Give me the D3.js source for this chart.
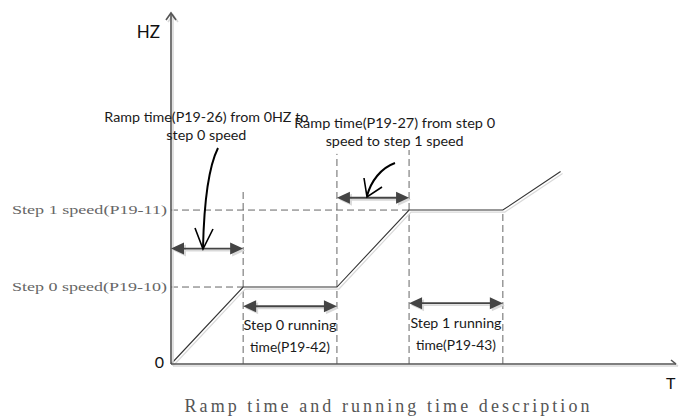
<!DOCTYPE html>
<html>
<head>
<meta charset="utf-8">
<script src="https://cdn.jsdelivr.net/npm/d3@7"></script>
<style>
  body { margin: 0; background: #fff; }
  svg { display: block; }
</style>
</head>
<body>
<div id="chart"></div>
<script>
const width = 679;
const height = 417;
const margin = {top: 13, right: 3, bottom: 53, left: 171};

// speed profile (time units, speed units: step 0 = 1)
const profileT = [0, 1, 2.3, 3.3, 4.6, 5.4];
const profileF = [0, 1, 1, 2, 2, 2.5];

// speed levels on the y axis
const levelNames = ["Step 0 speed(P19-10)", "Step 1 speed(P19-11)"];
const levelValues = [1, 2];
const levelEnds = [1, 3.3];

// vertical guide lines: time, top speed
const guideT = [1, 2.3, 3.3, 4.6];
const guideTop = [2.28, 2.73, 2.78, 2];

// double-headed interval arrows
const spanFrom = [0, 2.3, 1, 3.3];
const spanTo = [1, 3.3, 2.3, 4.6];
const spanLevel = [1.5, 2.16, 0.75, 0.79];

const colors = {axis: "#555", shadow: "#d9d9d9", line: "#333", dash: "#666", arrow: "#444", text: "#1a1a1a"};

const x = d3.scaleLinear().domain([0, 7]).range([margin.left, width - margin.right]);
const y = d3.scaleLinear().domain([0, 4.56]).range([height - margin.bottom, margin.top]);

const svg = d3.select("#chart")
  .append("svg")
  .attr("width", width)
  .attr("height", height)
  .attr("viewBox", [0, 0, width, height]);

// dashed guides
svg.append("g")
  .selectAll("line")
  .data(levelValues)
  .join("line")
  .attr("x1", x(0)).attr("x2", (d, i) => x(levelEnds[i]))
  .attr("y1", d => y(d)).attr("y2", d => y(d))
  .attr("stroke", colors.dash).attr("stroke-width", 1)
  .attr("stroke-dasharray", "7,4");

svg.append("g")
  .selectAll("line")
  .data(guideT)
  .join("line")
  .attr("x1", d => x(d)).attr("x2", d => x(d))
  .attr("y1", y(0)).attr("y2", (d, i) => y(guideTop[i]))
  .attr("stroke", colors.dash).attr("stroke-width", 1)
  .attr("stroke-dasharray", "7,4");

// speed profile line
const profile = profileT.map((t, i) => [t, profileF[i]]);
const line = d3.line().x(d => x(d[0])).y(d => y(d[1]));

svg.append("path")
  .datum(profile)
  .attr("fill", "none")
  .attr("stroke", colors.shadow)
  .attr("stroke-width", 1.2)
  .attr("transform", "translate(2,2)")
  .attr("d", line);

svg.append("path")
  .datum(profile)
  .attr("fill", "none")
  .attr("stroke", colors.line)
  .attr("stroke-width", 1.1)
  .attr("d", line);

// axes (shadow first)
const axes = svg.append("g");
[[colors.shadow, 2], [colors.axis, 0]].forEach(([c, o]) => {
  const g = axes.append("g").attr("transform", `translate(${o},${o})`)
    .attr("stroke", c).attr("stroke-width", 1.6).attr("fill", "none");
  g.append("line").attr("x1", x(0)).attr("x2", x(0)).attr("y1", y(0)).attr("y2", y.range()[1]);
  g.append("path").attr("d", `M${x(0) - 5},${y.range()[1] + 7}L${x(0)},${y.range()[1]}L${x(0) + 5},${y.range()[1] + 7}`);
  g.append("line").attr("x1", x(0)).attr("x2", x.range()[1]).attr("y1", y(0)).attr("y2", y(0));
  g.append("path").attr("d", `M${x.range()[1] - 5},${y(0) - 4}L${x.range()[1]},${y(0)}`);
});

// double-headed arrows
const spans = svg.append("g");
spanFrom.forEach((f, i) => {
  const x0 = x(f), x1 = x(spanTo[i]), yy = y(spanLevel[i]);
  const head = 13, hw = 6;
  [[colors.shadow, 2], [colors.arrow, 0]].forEach(([c, o]) => {
    const g = spans.append("g").attr("transform", `translate(${o},${o})`);
    g.append("line")
      .attr("x1", x0 + head - 2).attr("x2", x1 - head + 2)
      .attr("y1", yy).attr("y2", yy)
      .attr("stroke", c).attr("stroke-width", 1.8);
    g.append("path")
      .attr("d", `M${x0},${yy}L${x0 + head},${yy - hw}L${x0 + head},${yy + hw}Z M${x1},${yy}L${x1 - head},${yy - hw}L${x1 - head},${yy + hw}Z`)
      .attr("fill", c);
  });
});

// curved pointer arrows
const pointers = [
  {path: "M218,148 C208,168 204,205 203,248", head: "M195,228 L203,249 L213,229"},
  {path: "M395,163 C381,168 371,181 367,196", head: "M364,178 L367,197 L382,187"}
];
svg.append("g")
  .selectAll("g")
  .data(pointers)
  .join("g")
  .each(function(d) {
    const g = d3.select(this);
    g.append("path").attr("d", d.path).attr("fill", "none").attr("stroke", "#000").attr("stroke-width", 2);
    g.append("path").attr("d", d.head).attr("fill", "none").attr("stroke", "#000").attr("stroke-width", 1.6);
  });

// annotation text
const notes = [
  {t: 0.49, dy: 122, lines: ["Ramp time(P19-26) from 0HZ to", "step 0 speed"], w: [204, 80]},
  {t: 3.1, dy: 128, lines: ["Ramp time(P19-27) from step 0", "speed to step 1 speed"], w: [201, 138]},
  {t: 1.65, dy: 330, lines: ["Step 0 running", "time(P19-42)"], w: [93, 80]},
  {t: 3.95, dy: 328, lines: ["Step 1 running", "time(P19-43)"], w: [91, 80]}
];

const noteG = svg.append("g")
  .attr("font-family", "Lato, 'Open Sans', sans-serif")
  .attr("font-size", 13.5)
  .attr("fill", colors.text)
  .attr("text-anchor", "middle");

notes.forEach(n => {
  n.lines.forEach((s, j) => {
    noteG.append("text")
      .attr("x", x(n.t))
      .attr("y", n.dy + j * 18 + (n.dy > 300 ? 4 * j : 0))
      .attr("textLength", n.w[j])
      .attr("lengthAdjust", "spacingAndGlyphs")
      .text(s);
  });
});

// y level labels
svg.append("g")
  .attr("font-family", "'Liberation Serif', serif")
  .attr("font-size", 11.5)
  .attr("fill", "#666")
  .attr("text-anchor", "end")
  .selectAll("text")
  .data(levelValues)
  .join("text")
  .attr("x", x(0) - 4)
  .attr("y", d => y(d) + 4)
  .attr("textLength", 155)
  .attr("lengthAdjust", "spacingAndGlyphs")
  .text((d, i) => levelNames[i]);

// axis labels
svg.append("text")
  .attr("x", x(0) - 11).attr("y", 38)
  .attr("text-anchor", "end")
  .attr("font-family", "Lato, sans-serif").attr("font-size", 17)
  .attr("fill", "#111")
  .text("HZ");

svg.append("text")
  .attr("x", x(0) - 7).attr("y", 368)
  .attr("text-anchor", "end")
  .attr("font-family", "Lato, sans-serif").attr("font-size", 16)
  .attr("fill", "#111")
  .text("0");

svg.append("text")
  .attr("x", 666).attr("y", 389)
  .attr("font-family", "Lato, sans-serif").attr("font-size", 16)
  .attr("fill", "#111")
  .text("T");

// caption
svg.append("text")
  .attr("x", 387).attr("y", 412)
  .attr("text-anchor", "middle")
  .attr("font-family", "'Liberation Serif', serif").attr("font-size", 18)
  .attr("fill", "#555")
  .attr("textLength", 405)
  .attr("lengthAdjust", "spacing")
  .text("Ramp time and running time description");
</script>
</body>
</html>
